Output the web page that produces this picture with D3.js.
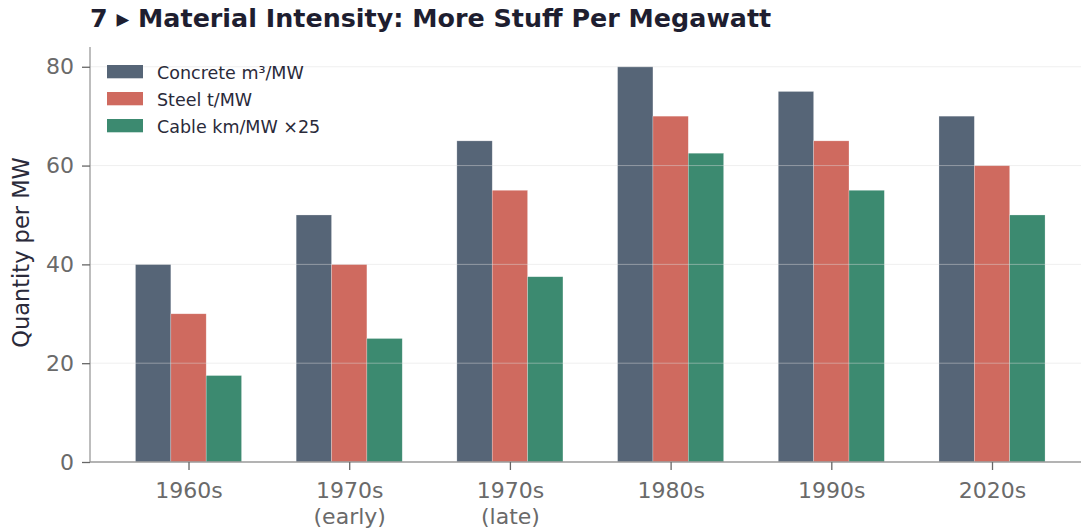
<!DOCTYPE html>
<html>
<head>
<meta charset="utf-8">
<script src="https://cdn.jsdelivr.net/npm/d3@7"></script>
<style>
  html, body { margin: 0; padding: 0; background: #fff; }
  svg { display: block; font-family: "DejaVu Sans", sans-serif; }
</style>
</head>
<body>
<svg id="chart" width="1081" height="531"></svg>
<script>
// Decades and material quantities per megawatt
const categories = ["1960s", "1970s\n(early)", "1970s\n(late)", "1980s", "1990s", "2020s"];
const concrete = [40, 50, 65, 80, 75, 70];
const steel = [30, 40, 55, 70, 65, 60];
const cable = [17.5, 25, 37.5, 62.5, 55, 50];
const seriesNames = ["Concrete m³/MW", "Steel t/MW", "Cable km/MW ×25"];
const seriesColors = ["#566577", "#cf6a5f", "#3c8a70"];
const yTicks = [0, 20, 40, 60, 80];

const series = [concrete, steel, cable];

const svg = d3.select("#chart");
const W = 1081;
const plotLeft = 90, plotBottom = 462, plotTop = 47;

// Category index scale; groups are 3 bars of width 0.22 each
const barW = 0.22;
const x = d3.scaleLinear().domain([-0.613, 5.613]).range([plotLeft, plotLeft + 6.226 * 160.7]);
const y = d3.scaleLinear().domain([0, 84]).range([plotBottom, plotTop]);

// Title
svg.append("text")
  .attr("x", 90).attr("y", 27)
  .attr("font-size", 25.4).attr("font-weight", "bold")
  .attr("fill", "#1e1e30")
  .text("7 ▸ Material Intensity: More Stuff Per Megawatt");

// Bars
series.forEach((vals, s) => {
  svg.append("g").selectAll("rect")
    .data(vals)
    .join("rect")
    .attr("x", (d, i) => x(i + (s - 1) * barW - barW / 2))
    .attr("width", x(barW) - x(0))
    .attr("y", d => y(d))
    .attr("height", d => y(0) - y(d))
    .attr("fill", seriesColors[s])
    .attr("stroke", "#ffffff")
    .attr("stroke-opacity", 0.4)
    .attr("stroke-width", 0.6);
});

// Horizontal grid, drawn over the bars
svg.append("g").selectAll("line")
  .data(yTicks.slice(1))
  .join("line")
  .attr("x1", plotLeft).attr("x2", W)
  .attr("y1", d => y(d)).attr("y2", d => y(d))
  .attr("stroke", "#dcdcdc").attr("stroke-opacity", 0.45).attr("stroke-width", 1);

// Y axis
const yAxis = svg.append("g")
  .attr("transform", `translate(${plotLeft},0)`)
  .call(d3.axisLeft(y).tickValues(yTicks).tickSize(8).tickPadding(8).tickFormat(d3.format("d")));
yAxis.select(".domain").attr("stroke", "#9a9a9a").attr("stroke-width", 1.3)
  .attr("d", `M0,${plotTop}V${plotBottom}`);
yAxis.selectAll(".tick line").attr("stroke", "#666").attr("stroke-width", 1.3);
yAxis.selectAll(".tick text").attr("font-size", 22).attr("fill", "#6a6a6a")
  .attr("font-family", "DejaVu Sans");

// X axis
const xAxis = svg.append("g")
  .attr("transform", `translate(0,${plotBottom})`)
  .call(d3.axisBottom(x).tickValues(d3.range(categories.length)).tickSize(8).tickPadding(8).tickFormat(() => ""));
xAxis.select(".domain").attr("stroke", "#9a9a9a").attr("stroke-width", 1.3)
  .attr("d", `M${plotLeft},0H${W}`);
xAxis.selectAll(".tick line").attr("stroke", "#666").attr("stroke-width", 1.3);
xAxis.selectAll(".tick text").remove();
xAxis.selectAll(".tick").each(function(d) {
  const lines = categories[d].split("\n");
  const t = d3.select(this).append("text")
    .attr("font-size", 22).attr("fill", "#6a6a6a")
    .attr("text-anchor", "middle").attr("font-family", "DejaVu Sans");
  lines.forEach((ln, k) => {
    t.append("tspan").attr("x", 0).attr("y", 36 + k * 25.5).text(ln);
  });
});

// Y label
svg.append("text")
  .attr("transform", `translate(29,${(plotTop + plotBottom) / 2 - 2}) rotate(-90)`)
  .attr("text-anchor", "middle")
  .attr("font-size", 22.5).attr("fill", "#2a2a3a")
  .text("Quantity per MW");

// Legend
const legend = svg.append("g").attr("transform", "translate(107,65)");
seriesNames.forEach((name, i) => {
  const g = legend.append("g").attr("transform", `translate(0,${i * 27})`);
  g.append("rect").attr("width", 36).attr("height", 13.3).attr("fill", seriesColors[i]);
  g.append("text").attr("x", 50).attr("y", 13.5).attr("font-size", 17.5).attr("fill", "#2a2a3a").text(name);
});
</script>
</body>
</html>
